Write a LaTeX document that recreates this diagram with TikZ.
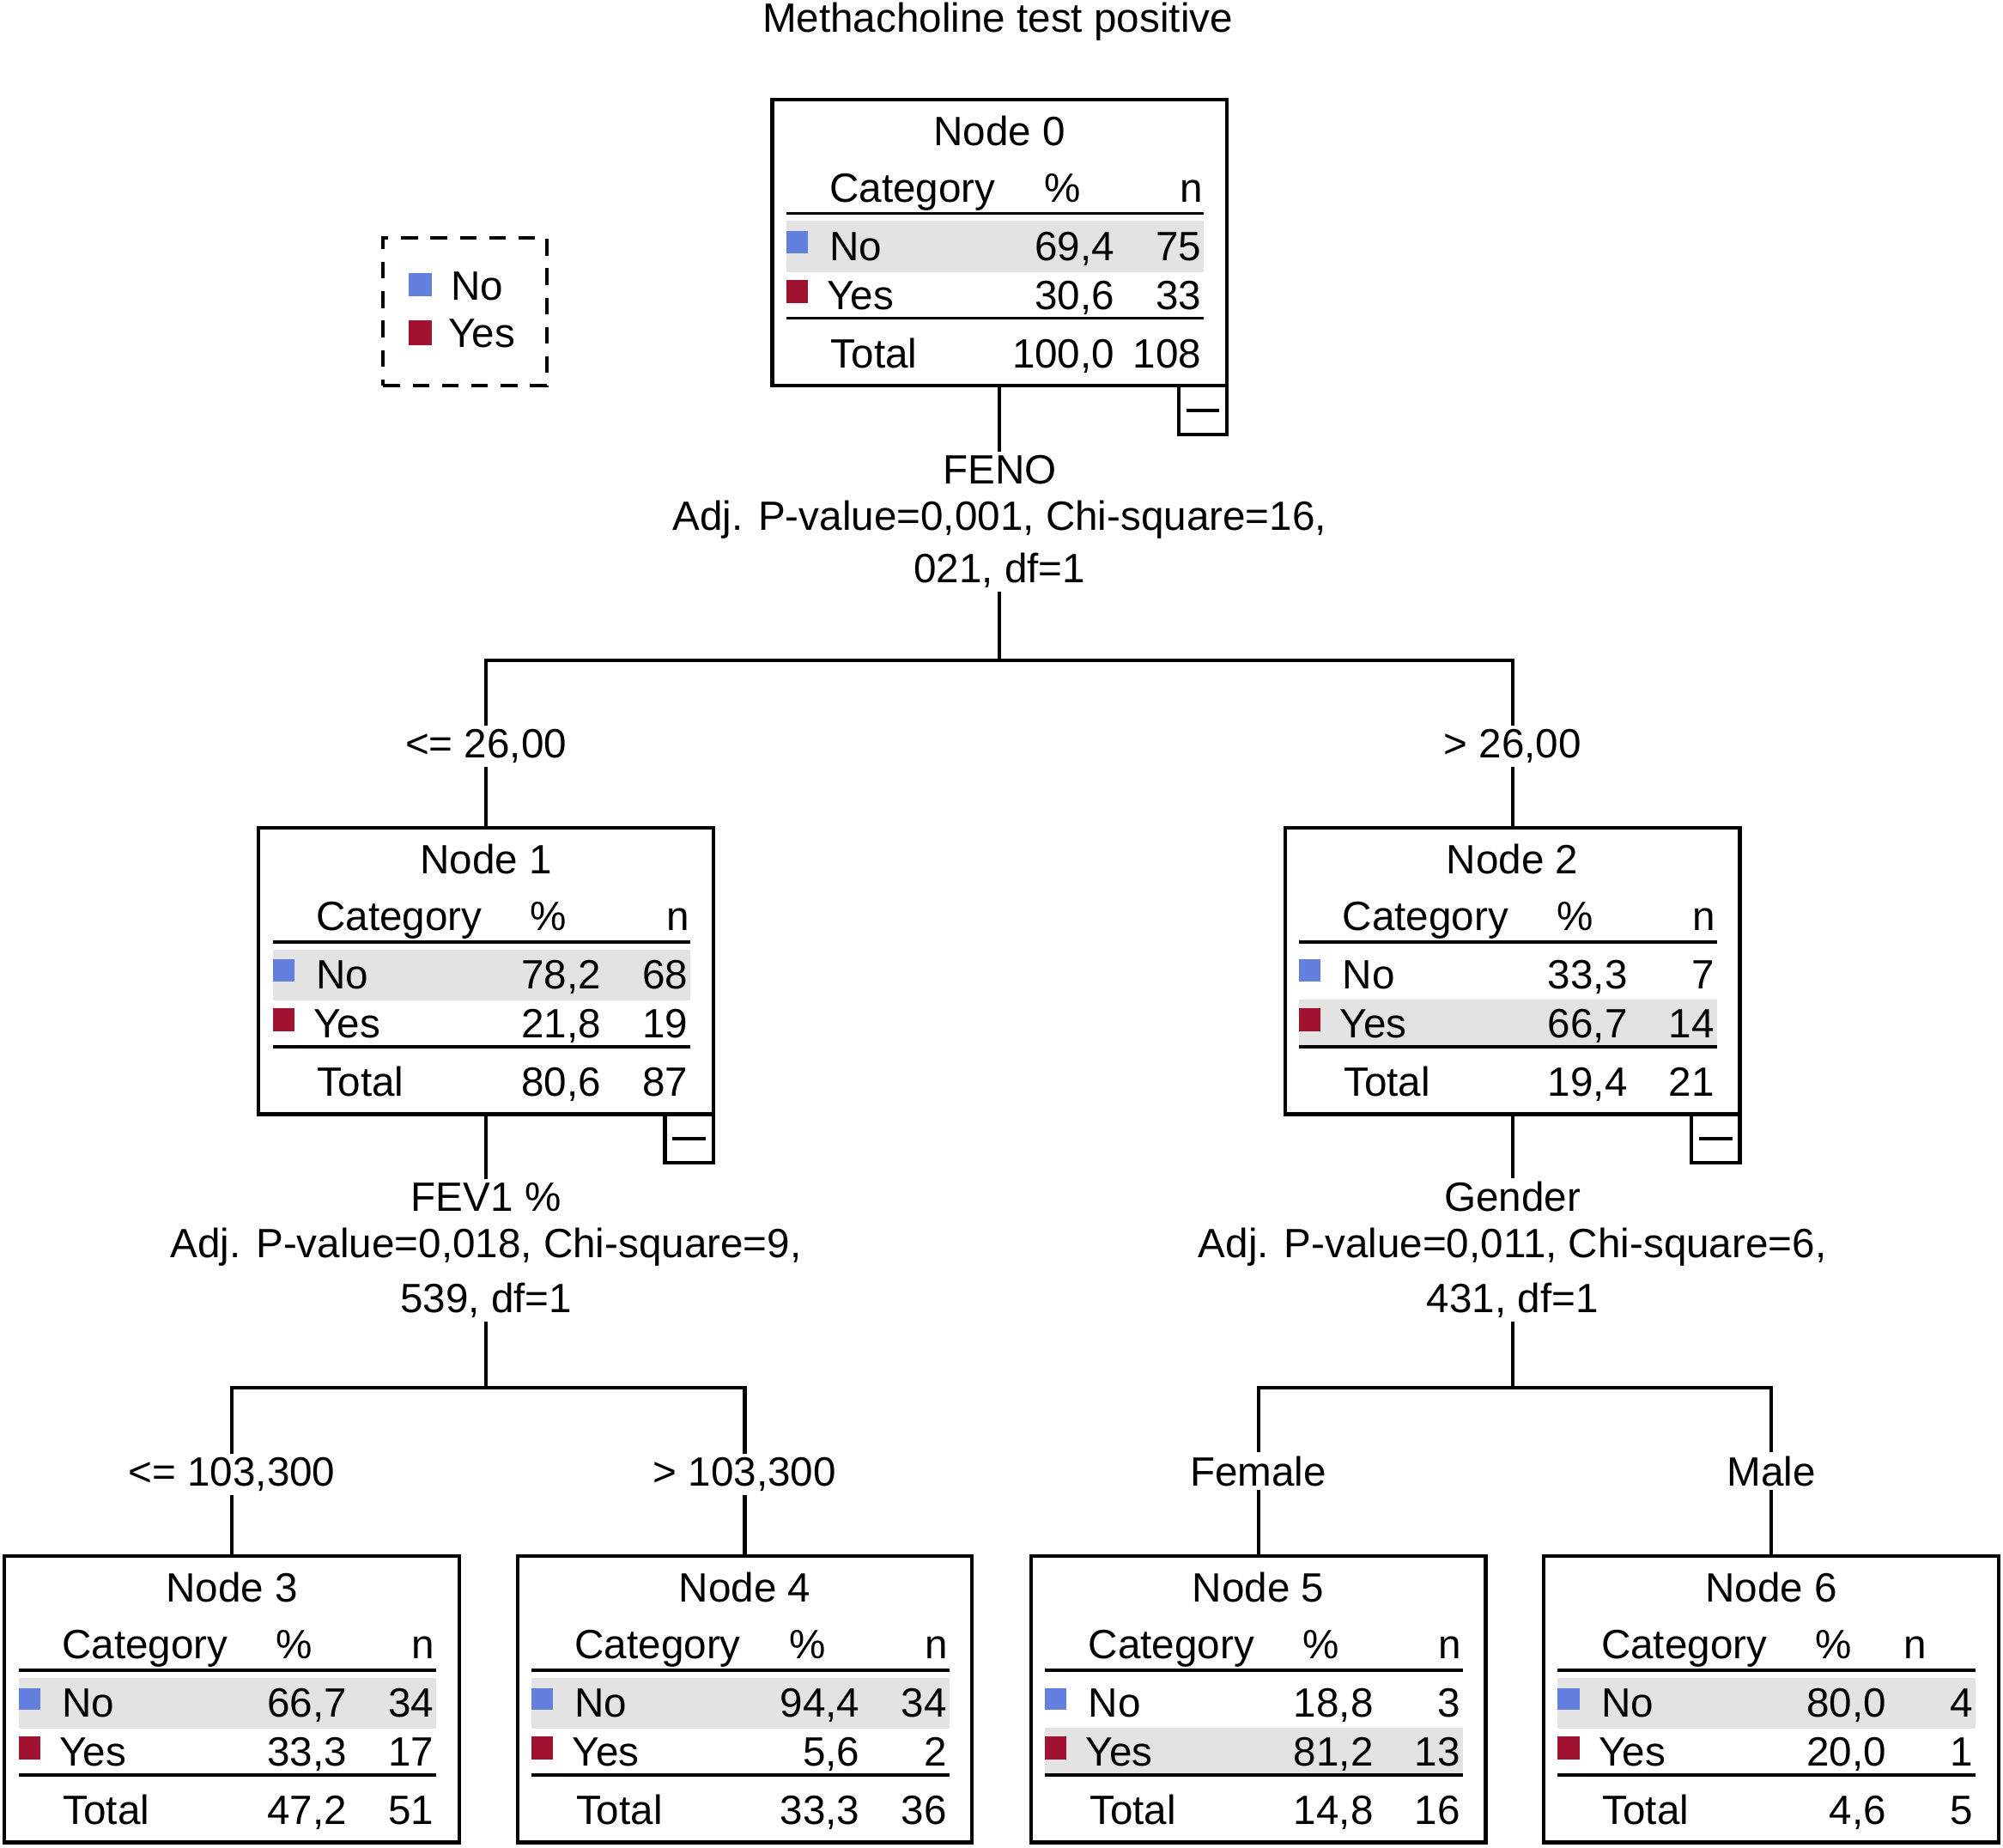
\documentclass[tikz,border=0pt]{standalone}
\usepackage{fontspec}
\setmainfont{Liberation Sans}
\definecolor{noblue}{RGB}{100,128,222}
\definecolor{yesred}{RGB}{160,18,48}
\definecolor{bandgray}{RGB}{227,227,227}
\tikzset{
  every node/.style={font=\fontsize{32}{36}\selectfont, inner sep=0pt, outer sep=0pt},
  boxframe/.style={draw=black, line width=2.8pt, minimum width=356pt, minimum height=224pt, anchor=north},
  minusbox/.style={draw=black, line width=2.8pt, minimum width=38pt, minimum height=38pt, anchor=north east},
  legendbox/.style={draw=black, line width=2.8pt, dash pattern=on 13pt off 10pt, minimum width=128pt, minimum height=116pt, anchor=north west},
  rule/.style={line width=2.6pt},
  link/.style={line width=2.8pt},
  lbl/.style={inner sep=3pt, anchor=base},
  tl/.style={anchor=base west},
  tr/.style={anchor=base east},
  tc/.style={anchor=base},
}
% #1 name, #2 position (cx,top), #3 title, #4 no%, #5 no n, #6 yes%, #7 yes n, #8 total%, #9 total n
% \HL = highlighted row (1 No, 2 Yes); \NX = x of n header relative to centre
\newcommand{\TreeBox}[9]{%
  \begin{scope}[shift={#2}]
    \ifnum\HL=1
      \fill[bandgray] (-167,95) rectangle (160,135);
    \else
      \fill[bandgray] (-167,134) rectangle (160,170);
    \fi
    \node[boxframe] (#1) at (0,0) {};
    \node[tc] (#1-title) at (0,36) {Node #3};
    \node[tl] (#1-cat) at (-133,80) {Category};
    \node[tc] (#1-pct) at (49,80) {\%};
    \node[tc] (#1-n) at (\NX,80) {n};
    \draw[rule] (-167,89) -- (160,89);
    \fill[noblue] (-167,103) rectangle (-150,120);
    \node[tl] (#1-no) at (-133,126) {No};
    \node[tr] (#1-nop) at (90,126) {#4};
    \node[tr] (#1-non) at (158,126) {#5};
    \fill[yesred] (-167,141) rectangle (-150,159);
    \node[tl] (#1-yes) at (-135,164) {Yes};
    \node[tr] (#1-yesp) at (90,164) {#6};
    \node[tr] (#1-yesn) at (158,164) {#7};
    \draw[rule] (-167,171) -- (160,171);
    \node[tl] (#1-tot) at (-132,210) {Total};
    \node[tr] (#1-totp) at (90,210) {#8};
    \node[tr] (#1-totn) at (158,210) {#9};
  \end{scope}}
\newcommand{\MinusBox}[1]{%
  \node[minusbox] (#1-m) at (#1.south east) {};
  \draw[line width=2.6pt] ([xshift=-13pt]#1-m.center) -- ([xshift=13pt]#1-m.center);}
\begin{document}
\begin{tikzpicture}[x=1pt,y=-1pt]
\useasboundingbox (0,0) rectangle (1568,1446);

\node[tc] (title) at (781,25) {Methacholine test positive};

% legend
\node[legendbox] (legend) at (300,186) {};
\fill[noblue] (320,214) rectangle (338,232);
\node[tl] (legno) at (353,235) {No};
\fill[yesred] (320,251) rectangle (338,270);
\node[tl] (legyes) at (351,272) {Yes};

% boxes
\def\NX{150}
\def\HL{1}
\TreeBox{n0}{(782.5,78)}{0}{69,4}{75}{30,6}{33}{100,0}{108}
\TreeBox{n1}{(380.5,648)}{1}{78,2}{68}{21,8}{19}{80,6}{87}
\def\HL{2}
\TreeBox{n2}{(1184,648)}{2}{33,3}{7}{66,7}{14}{19,4}{21}
\def\HL{1}
\TreeBox{n3}{(181.5,1218)}{3}{66,7}{34}{33,3}{17}{47,2}{51}
\TreeBox{n4}{(583,1218)}{4}{94,4}{34}{5,6}{2}{33,3}{36}
\def\HL{2}
\TreeBox{n5}{(985,1218)}{5}{18,8}{3}{81,2}{13}{14,8}{16}
\def\HL{1}
\def\NX{113}
\TreeBox{n6}{(1386.5,1218)}{6}{80,0}{4}{20,0}{1}{4,6}{5}

\MinusBox{n0}
\MinusBox{n1}
\MinusBox{n2}

% split labels
\node[lbl] (s0a) at (782.5,379) {FENO};
\node[lbl] (s0b) at (782.5,415) {Adj. P-value=0,001, Chi-square=16,};
\node[lbl] (s0c) at (782.5,456) {021, df=1};
\node[lbl] (s1a) at (380.5,948) {FEV1 \%};
\node[lbl] (s1b) at (380.5,984) {Adj. P-value=0,018, Chi-square=9,};
\node[lbl] (s1c) at (380.5,1027) {539, df=1};
\node[lbl] (s2a) at (1184,948) {Gender};
\node[lbl] (s2b) at (1184,984) {Adj. P-value=0,011, Chi-square=6,};
\node[lbl] (s2c) at (1184,1027) {431, df=1};

% branch labels
\node[lbl] (b1) at (380.5,593) {<= 26,00};
\node[lbl] (b2) at (1184,593) {> 26,00};
\node[lbl] (b3) at (181.5,1163) {<= 103,300};
\node[lbl] (b4) at (583,1163) {> 103,300};
\node[lbl] (b5) at (985,1163) {Female};
\node[lbl] (b6) at (1386.5,1163) {Male};

% junctions
\coordinate (j0) at (782.5,517);
\coordinate (j1) at (380.5,1086);
\coordinate (j2) at (1184,1086);

% connectors
\draw[link] (n0.south) -- (n0.south |- s0a.north);
\draw[link] (n0.south |- s0c.south) -- (j0);
\draw[link] (b1.north) -- (b1.north |- j0) -- (b2.north |- j0) -- (b2.north);
\draw[link] (b1.south) -- (n1.north);
\draw[link] (b2.south) -- (n2.north);

\draw[link] (n1.south) -- (n1.south |- s1a.north);
\draw[link] (n1.south |- s1c.south) -- (j1);
\draw[link] (b3.north) -- (b3.north |- j1) -- (b4.north |- j1) -- (b4.north);
\draw[link] (b3.south) -- (n3.north);
\draw[link] (b4.south) -- (n4.north);

\draw[link] (n2.south) -- (n2.south |- s2a.north);
\draw[link] (n2.south |- s2c.south) -- (j2);
\draw[link] (b5.north) -- (b5.north |- j2) -- (b6.north |- j2) -- (b6.north);
\draw[link] (b5.south) -- (n5.north);
\draw[link] (b6.south) -- (n6.north);
\end{tikzpicture}
\end{document}
